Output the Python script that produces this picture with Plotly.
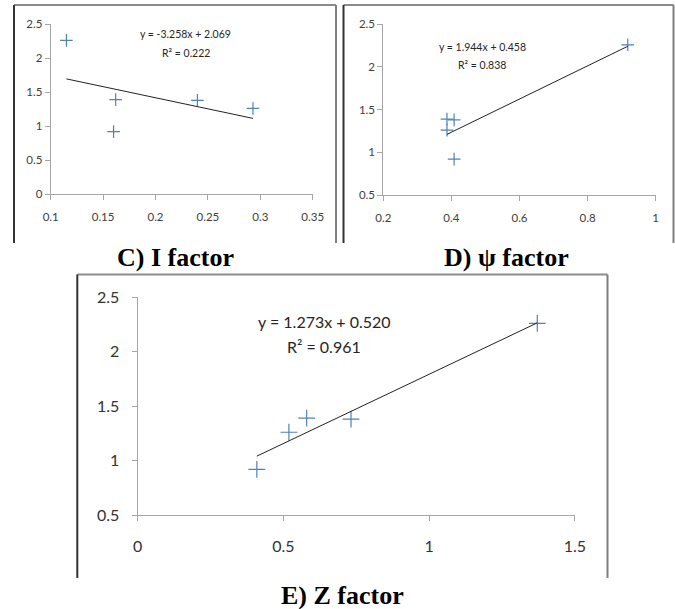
import plotly.graph_objects as go

# ---------------- data ----------------
y_obs = [2.26, 0.92, 1.26, 1.39, 1.38]
x_I = [0.115, 0.160, 0.293, 0.162, 0.240]
x_psi = [0.918, 0.408, 0.387, 0.387, 0.408]
x_Z = [1.371, 0.409, 0.519, 0.580, 0.732]

slopes = [-3.258, 1.944, 1.273]
intercepts = [2.069, 0.458, 0.520]
r2_values = [0.222, 0.838, 0.961]

panel_titles = ["C) I factor", "D) ψ factor", "E) Z factor"]

xtick_C = [0.1, 0.15, 0.2, 0.25, 0.3, 0.35]
xtick_C_text = ["0.1", "0.15", "0.2", "0.25", "0.3", "0.35"]
ytick_C = [0, 0.5, 1, 1.5, 2, 2.5]
ytick_C_text = ["0", "0.5", "1", "1.5", "2", "2.5"]
xtick_D = [0.2, 0.4, 0.6, 0.8, 1]
xtick_D_text = ["0.2", "0.4", "0.6", "0.8", "1"]
ytick_D = [0.5, 1, 1.5, 2, 2.5]
ytick_D_text = ["0.5", "1", "1.5", "2", "2.5"]
xtick_E = [0, 0.5, 1, 1.5]
xtick_E_text = ["0", "0.5", "1", "1.5"]
ytick_E = [0.5, 1, 1.5, 2, 2.5]
ytick_E_text = ["0.5", "1", "1.5", "2", "2.5"]

W, H = 675, 609
BLUE = "#4F81BD"
AXIS = "#a6a6a6"
CAL = "Lato, Carlito, Calibri, sans-serif"
SERIF = "Liberation Serif, Times New Roman, serif"

fig = go.Figure()

panels = [
    dict(x=x_I, ax="", msize=9),
    dict(x=x_psi, ax="2", msize=9),
    dict(x=x_Z, ax="3", msize=12),
]

for i, p in enumerate(panels):
    xs = p["x"]
    fig.add_trace(go.Scatter(
        x=xs, y=y_obs, mode="markers",
        xaxis="x" + p["ax"], yaxis="y" + p["ax"],
        marker=dict(symbol="cross-thin", size=p["msize"],
                    line=dict(color=BLUE, width=1.2), color=BLUE),
        showlegend=False, cliponaxis=False))
    x0, x1 = min(xs), max(xs)
    fig.add_trace(go.Scatter(
        x=[x0, x1],
        y=[slopes[i] * x0 + intercepts[i], slopes[i] * x1 + intercepts[i]],
        mode="lines", xaxis="x" + p["ax"], yaxis="y" + p["ax"],
        line=dict(color="#222222", width=1), showlegend=False,
        cliponaxis=False))


def px_x(v):
    return v / W


def px_y(v):
    return 1 - v / H


def axis_common(size, color, standoff):
    return dict(showgrid=False, zeroline=False, showline=True,
                linecolor=AXIS, linewidth=1, ticks="outside",
                ticklen=5, tickcolor=AXIS, tickwidth=1,
                tickfont=dict(size=size, family=CAL, color=color),
                ticklabelstandoff=standoff, tickmode="array",
                automargin=False, fixedrange=True)


fig.update_layout(
    xaxis=dict(domain=[px_x(50.7), px_x(312.7)], range=[0.1, 0.35],
               anchor="y", tickvals=xtick_C, ticktext=xtick_C_text,
               **axis_common(11.5, "#404040", 7)),
    yaxis=dict(domain=[px_y(194.3), px_y(24)], range=[0, 2.5],
               anchor="x", tickvals=ytick_C, ticktext=ytick_C_text,
               **axis_common(11.5, "#404040", 0)),
    xaxis2=dict(domain=[px_x(383.3), px_x(655.7)], range=[0.2, 1],
                anchor="y2", tickvals=xtick_D, ticktext=xtick_D_text,
                **axis_common(11.5, "#404040", 7)),
    yaxis2=dict(domain=[px_y(195), px_y(24.3)], range=[0.5, 2.5],
                anchor="x2", tickvals=ytick_D, ticktext=ytick_D_text,
                **axis_common(11.5, "#404040", 0)),
    xaxis3=dict(domain=[px_x(137.6), px_x(574.9)], range=[0, 1.5],
                anchor="y3", tickvals=xtick_E, ticktext=xtick_E_text,
                **axis_common(16, "#333333", 12)),
    yaxis3=dict(domain=[px_y(515), px_y(297.3)], range=[0.5, 2.5],
                anchor="x3", tickvals=ytick_E, ticktext=ytick_E_text,
                **axis_common(16, "#333333", 9)),
)

# equation annotations (data coordinates of each panel)
eq_pos = [
    dict(xref="x", yref="y", x=0.229, y1=2.354, y2=2.075, size=10.5),
    dict(xref="x2", yref="y2", x=0.49, y1=2.237, y2=2.023, size=10.5),
    dict(xref="x3", yref="y3", x=0.641, y1=2.275, y2=2.049, size=16),
]
annotations = []
for i, e in enumerate(eq_pos):
    sign = "+" if intercepts[i] >= 0 else "-"
    eq = f"y = {slopes[i]:.3f}x {sign} {abs(intercepts[i]):.3f}"
    r2 = f"R² = {r2_values[i]:.3f}"
    for txt, yy in ((eq, e["y1"]), (r2, e["y2"])):
        annotations.append(dict(
            x=e["x"], y=yy, xref=e["xref"], yref=e["yref"], text=txt,
            showarrow=False, xanchor="center", yanchor="middle",
            font=dict(size=e["size"], family=CAL, color="#262626")))

# panel titles
title_pos = [(175.3, 258), (506.0, 258), (342.0, 595)]
for t, (cx, cy) in zip(panel_titles, title_pos):
    annotations.append(dict(
        x=px_x(cx), y=px_y(cy), xref="paper", yref="paper",
        text=f"<b>{t}</b>", showarrow=False, xanchor="center",
        yanchor="middle",
        font=dict(size=26, family=SERIF, color="#000000")))

# panel frames (open at the bottom)
frames = [
    (14, 5, 336, 243),
    (343.5, 5, 673.5, 243),
    (77.3, 274.5, 607.5, 578),
]
shapes = []
for (l, t, r, b) in frames:
    shapes.append(dict(type="line", xref="paper", yref="paper",
                       x0=px_x(l), x1=px_x(r), y0=px_y(t), y1=px_y(t),
                       line=dict(color="#8c8c8c", width=2)))
    shapes.append(dict(type="line", xref="paper", yref="paper",
                       x0=px_x(l), x1=px_x(l), y0=px_y(t), y1=px_y(b),
                       line=dict(color="#333333", width=2)))
    shapes.append(dict(type="line", xref="paper", yref="paper",
                       x0=px_x(r), x1=px_x(r), y0=px_y(t), y1=px_y(b),
                       line=dict(color="#7f7f7f", width=2)))

fig.update_layout(
    width=W, height=H, margin=dict(l=0, r=0, t=0, b=0, autoexpand=False),
    paper_bgcolor="white", plot_bgcolor="white",
    annotations=annotations, shapes=shapes, showlegend=False,
)

fig.write_html("out.html", config={"displayModeBar": False},
               post_script="document.body.style.margin='0';"
                           "document.body.style.overflow='hidden';")
